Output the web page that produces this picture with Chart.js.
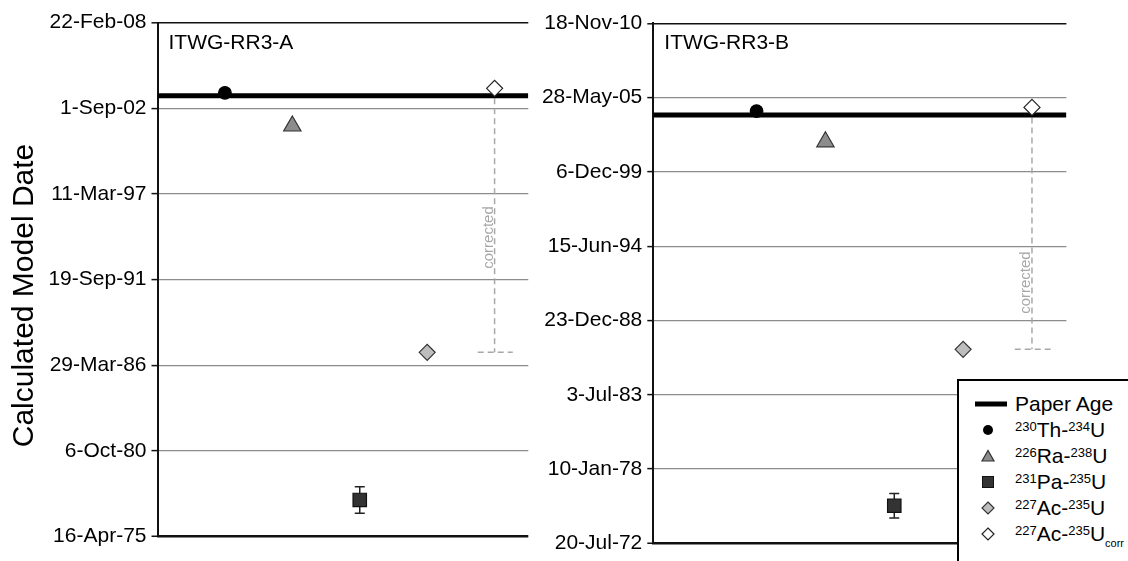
<!DOCTYPE html>
<html>
<head>
<meta charset="utf-8">
<script src="https://cdn.jsdelivr.net/npm/chart.js@4.4.1/dist/chart.umd.min.js"></script>
<style>
  html, body { margin: 0; padding: 0; background: #fff; overflow: hidden; }
  body { width: 1128px; height: 561px; position: relative; font-family: 'Liberation Sans', Arial, sans-serif; }
  #chartA { position: absolute; left: 0; top: 0; }
  #chartB { position: absolute; left: 528px; top: 0; }
  #legend {
    position: absolute; left: 957px; top: 379px; width: 200px; height: 200px;
    border: 2px solid #000; background: #fff; padding-top: 10px; box-sizing: border-box;
  }
  .row { height: 26px; display: flex; align-items: center; font-size: 21px; color: #000; white-space: nowrap; }
  .row svg { width: 56px; height: 26px; flex: none; }
  .row span { display: inline-block; line-height: 26px; }
  .row sup { font-size: 13px; vertical-align: 6px; line-height: 0; }
  .row sub { font-size: 11px; vertical-align: -6px; line-height: 0; }
</style>
</head>
<body>
<canvas id="chartA" width="560" height="561"></canvas>
<canvas id="chartB" width="600" height="561"></canvas>
<div id="legend">
  <div class="row"><svg><line x1="16" y1="13" x2="48" y2="13" stroke="#000" stroke-width="5"/></svg><span>Paper Age</span></div>
  <div class="row"><svg><circle cx="29" cy="13" r="5" fill="#000"/></svg><span><sup>230</sup>Th-<sup>234</sup>U</span></div>
  <div class="row"><svg><polygon points="23,18 35,18 29,7.5" fill="#8c8c8c" stroke="#333" stroke-width="1.2"/></svg><span><sup>226</sup>Ra-<sup>238</sup>U</span></div>
  <div class="row"><svg><rect x="23.5" y="7.5" width="11" height="11" fill="#333" stroke="#111" stroke-width="1"/></svg><span><sup>231</sup>Pa-<sup>235</sup>U</span></div>
  <div class="row"><svg><polygon points="29,7 35,13 29,19 23,13" fill="#bdbdbd" stroke="#333" stroke-width="1.2"/></svg><span><sup>227</sup>Ac-<sup>235</sup>U</span></div>
  <div class="row"><svg><polygon points="29,7 35,13 29,19 23,13" fill="#fff" stroke="#222" stroke-width="1.2"/></svg><span><sup>227</sup>Ac-<sup>235</sup>U<sub>corr</sub></span></div>
</div>
<script>
// samples (one panel each)
const SAMPLES = ["ITWG-RR3-A", "ITWG-RR3-B"];
// x position of each method inside a panel
const METHOD_X = [1, 2, 3, 4, 5];
const METHODS = ["230Th-234U", "226Ra-238U", "231Pa-235U", "227Ac-235U", "227Ac-235U corr"];

// model dates, [A, B]
const PAPER_AGE = ["2003-06-24", "2004-02-12"];
const TH_U = ["2003-08-31", "2004-05-30"];
const RA_U = ["2001-07-16", "2002-02-23"];
const PA_U = ["1977-08-20", "1975-04-28"];
const PA_U_ERR = [311, 328]; // days, +/-
const AC_U = ["1987-01-28", "1986-11-06"];
const AC_U_CORR = ["2003-12-13", "2004-09-06"];

// axis ranges
const AXIS_START = ["1975-04-16", "1972-07-20"];
const AXIS_END = ["2008-02-22", "2010-11-18"];
const TICK_STEP_DAYS = 2000;
const X_MIN = [0, -0.5];
const X_MAX = [5.5, 5.5];

const MONTHS = ["Jan", "Feb", "Mar", "Apr", "May", "Jun", "Jul", "Aug", "Sep", "Oct", "Nov", "Dec"];
const EPOCH = Date.UTC(1899, 11, 30);
const DAY = 86400000;
const FONT = "'Liberation Sans', Arial, sans-serif";

function toSerial(iso) {
  return Math.round((Date.parse(iso) - EPOCH) / DAY);
}

function fmtDate(v) {
  const d = new Date(EPOCH + Math.round(v) * DAY);
  return d.getUTCDate() + "-" + MONTHS[d.getUTCMonth()] + "-" + String(d.getUTCFullYear() % 100).padStart(2, "0");
}

// error bars, panel label, "corrected" note, axis title
const extrasPlugin = {
  id: "extras",
  beforeDatasetsDraw(chart, args, opts) {
    const xs = chart.scales.x, ys = chart.scales.y, ctx = chart.ctx;
    ctx.save();
    ctx.strokeStyle = "#222";
    ctx.lineWidth = 1.5;
    opts.errorBars.forEach((b) => {
      const px = xs.getPixelForValue(b.x);
      const y1 = ys.getPixelForValue(b.y - b.err);
      const y2 = ys.getPixelForValue(b.y + b.err);
      ctx.beginPath();
      ctx.moveTo(px, y1); ctx.lineTo(px, y2);
      ctx.moveTo(px - 5, y1); ctx.lineTo(px + 5, y1);
      ctx.moveTo(px - 5, y2); ctx.lineTo(px + 5, y2);
      ctx.stroke();
    });
    ctx.restore();
  },
  afterDraw(chart, args, opts) {
    const ctx = chart.ctx, area = chart.chartArea;
    const xs = chart.scales.x, ys = chart.scales.y;
    ctx.save();
    ctx.fillStyle = "#000";
    ctx.font = "21px " + FONT;
    ctx.textAlign = "left";
    ctx.textBaseline = "alphabetic";
    ctx.fillText(opts.label, area.left + 11, area.top + 26);

    // "corrected" beside the dashed line
    const c = opts.corrected;
    const lx = xs.getPixelForValue(c.x);
    const yTop = ys.getPixelForValue(c.from);
    const yBot = ys.getPixelForValue(c.to);
    ctx.save();
    ctx.translate(lx - 1.5, yTop + c.at * (yBot - yTop));
    ctx.rotate(-Math.PI / 2);
    ctx.fillStyle = "#a8a8a8";
    ctx.font = "15px " + FONT;
    ctx.textAlign = "center";
    ctx.fillText("corrected", 0, 0);
    ctx.restore();

    if (opts.yTitle) {
      ctx.translate(33, 295.5);
      ctx.rotate(-Math.PI / 2);
      ctx.font = "30px " + FONT;
      ctx.textAlign = "center";
      ctx.fillText(opts.yTitle, 0, 0);
    }
    ctx.restore();
  },
};

function makePanel(canvasId, i, layout) {
  const yMin = toSerial(AXIS_START[i]);
  const yMax = toSerial(AXIS_END[i]);
  const paper = toSerial(PAPER_AGE[i]);
  const ac = toSerial(AC_U[i]);
  const acCorr = toSerial(AC_U_CORR[i]);
  const pa = toSerial(PA_U[i]);

  const marker = (x, y, style, radius, fill, stroke) => ({
    data: [{ x: x, y: toSerial(y) }],
    pointStyle: style,
    pointRadius: radius,
    backgroundColor: fill,
    borderColor: stroke,
    borderWidth: 1.2,
    order: 0,
  });

  return new Chart(document.getElementById(canvasId), {
    type: "scatter",
    data: {
      datasets: [
        marker(METHOD_X[0], TH_U[i], "circle", 6.3, "#000", "#000"),
        marker(METHOD_X[1], RA_U[i], "triangle", 10, "#8c8c8c", "#333"),
        marker(METHOD_X[2], PA_U[i], "rect", 9.5, "#333", "#111"),
        marker(METHOD_X[3], AC_U[i], "rectRot", 8, "#bdbdbd", "#333"),
        marker(METHOD_X[4], AC_U_CORR[i], "rectRot", 8, "#fff", "#222"),
        {
          // paper age
          data: [{ x: X_MIN[i], y: paper }, { x: X_MAX[i], y: paper }],
          showLine: true, pointRadius: 0, borderColor: "#000", borderWidth: 5, order: 5,
        },
        {
          data: [{ x: METHOD_X[4], y: acCorr }, { x: METHOD_X[4], y: ac }],
          showLine: true, pointRadius: 0, borderColor: "#a8a8a8", borderWidth: 1.5, borderDash: [6, 4], order: 5,
        },
        {
          data: [{ x: METHOD_X[4] - 0.25, y: ac }, { x: METHOD_X[4] + 0.27, y: ac }],
          showLine: true, pointRadius: 0, borderColor: "#a8a8a8", borderWidth: 1.5, borderDash: [6, 4], order: 5,
        },
      ],
    },
    options: {
      responsive: false,
      animation: false,
      events: [],
      layout: { padding: layout.padding },
      plugins: {
        legend: { display: false },
        tooltip: { enabled: false },
        extras: {
          label: SAMPLES[i],
          yTitle: layout.yTitle,
          errorBars: [{ x: METHOD_X[2], y: pa, err: PA_U_ERR[i] }],
          corrected: { x: METHOD_X[4], from: acCorr, to: ac, at: layout.corrAt },
        },
      },
      scales: {
        x: { type: "linear", display: false, min: X_MIN[i], max: X_MAX[i] },
        y: {
          type: "linear",
          min: yMin,
          max: yMax,
          afterFit: (s) => { s.width = layout.yWidth; },
          ticks: {
            stepSize: TICK_STEP_DAYS,
            autoSkip: false,
            padding: 5,
            color: "#000",
            font: { family: FONT, size: 21 },
            callback: (v) => fmtDate(v),
          },
          grid: {
            color: (c) => (c.tick && (c.tick.value === yMin || c.tick.value === yMax) ? "#111" : "#8c8c8c"),
            lineWidth: (c) => (c.tick && c.tick.value === yMin ? 2.5 : c.tick && c.tick.value === yMax ? 1.6 : 1.2),
            tickColor: "#111",
            tickLength: 6,
            tickWidth: 1.5,
          },
          border: { display: true, color: "#111", width: 2 },
        },
      },
    },
    plugins: [extrasPlugin],
  });
}

makePanel("chartA", 0, {
  padding: { left: 0, top: 22.7, right: 31.7, bottom: 24.3 },
  yWidth: 157.5,
  yTitle: "Calculated Model Date",
  corrAt: 0.565,
});
makePanel("chartB", 1, {
  padding: { left: 0, top: 23.3, right: 61.6, bottom: 17.7 },
  yWidth: 125.3,
  corrAt: 0.724,
});
</script>
</body>
</html>
